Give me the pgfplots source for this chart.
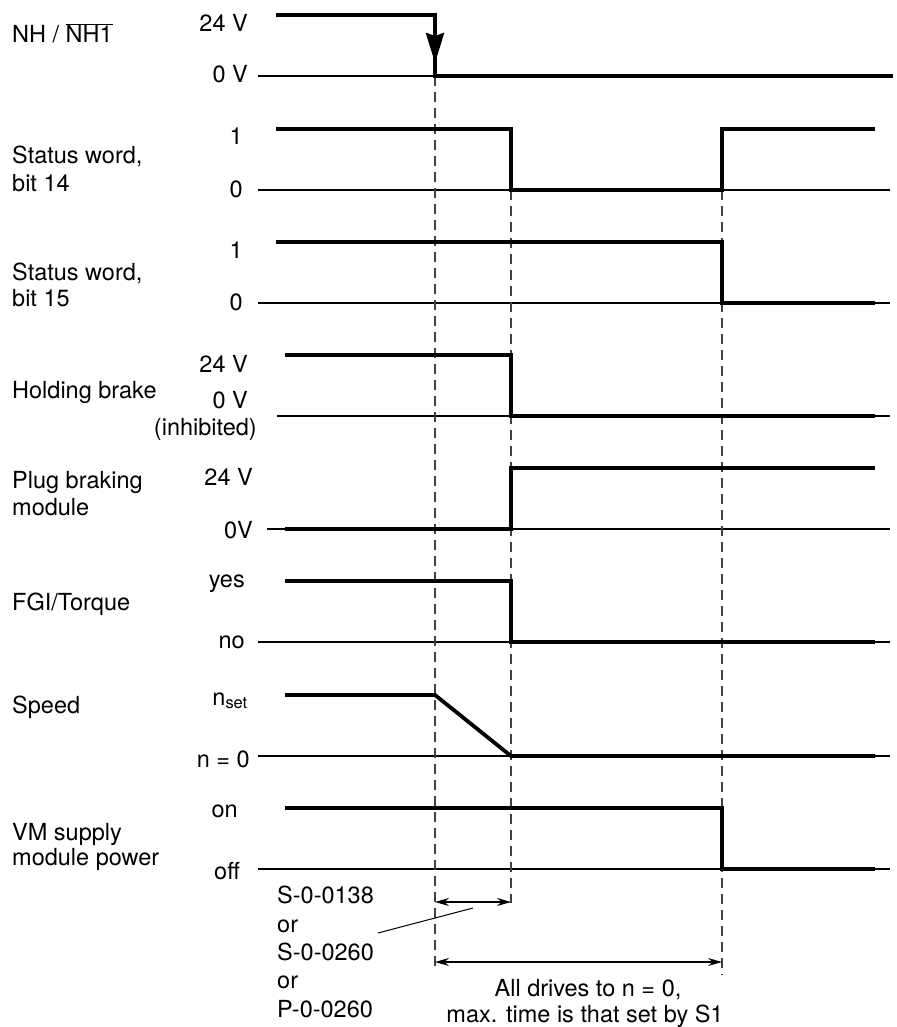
\documentclass[border=0pt]{standalone}
\usepackage{fontspec}
\setmainfont{TeX Gyre Heros}
\usepackage{pgfplots}
\pgfplotsset{compat=1.18}
\usetikzlibrary{arrows.meta}
\tikzset{
  lab/.style={inner sep=0pt, font=\fontsize{23.5}{28}\selectfont},
  sig/.style={black, line width=3.8pt, line join=miter},
  base/.style={black, line width=1.1pt},
  dsh/.style={black!75, line width=1.1pt, dash pattern=on 10pt off 6pt},
  dim/.style={black, line width=1.1pt, {Stealth[length=14pt,width=8pt]}-{Stealth[length=14pt,width=8pt]}}}
\begin{document}
\begin{tikzpicture}
\path[use as bounding box] (0,0) rectangle (896pt,1027pt);
\begin{axis}[at={(0,0)}, anchor=south west, width=896pt, height=1027pt,
  scale only axis, xmin=0, xmax=896, ymin=0, ymax=1027, y dir=reverse,
  hide axis, clip=false]

% baselines
\addplot[base, no marks] coordinates {(258,76)(893,76)};
\addplot[base, no marks] coordinates {(258,190)(890,190)};
\addplot[base, no marks] coordinates {(258,303)(890,303)};
\addplot[base, no marks] coordinates {(277,416)(890,416)};
\addplot[base, no marks] coordinates {(267,529)(890,529)};
\addplot[base, no marks] coordinates {(258,642)(890,642)};
\addplot[base, no marks] coordinates {(258,756)(890,756)};
\addplot[base, no marks] coordinates {(258,869)(890,869)};

% dashed markers
\addplot[dsh, no marks] coordinates {(435,76)(435,968)};
\addplot[dsh, no marks] coordinates {(511,190)(511,903)};
\addplot[dsh, no marks] coordinates {(722,190)(722,975)};

% signals
\addplot[sig, no marks] coordinates {(276,15)(435,15)(435,76)(893,76)};
\addplot[black, line width=3.8pt, no marks, -{Stealth[length=30pt,width=18pt,inset=3pt]}] coordinates {(435,20)(435,63)};
\addplot[sig, no marks] coordinates {(276,129)(511,129)(511,190)(722,190)(722,129)(875,129)};
\addplot[sig, no marks] coordinates {(276,242)(722,242)(722,303)(875,303)};
\addplot[sig, no marks] coordinates {(285,355)(511,355)(511,416)(875,416)};
\addplot[sig, no marks] coordinates {(285,529)(511,529)(511,468)(875,468)};
\addplot[sig, no marks] coordinates {(285,581)(511,581)(511,642)(875,642)};
\addplot[sig, no marks] coordinates {(285,695)(435,695)(511,756)(875,756)};
\addplot[sig, no marks] coordinates {(285,808)(722,808)(722,869)(875,869)};

% dimension arrows
\addplot[dim, no marks] coordinates {(435,902)(511,902)};
\addplot[dim, no marks] coordinates {(435,962)(722,962)};
\addplot[black, line width=1pt, no marks] coordinates {(378,933)(473,908)};

% left labels
\node[lab, anchor=base west] at (axis cs:12,43) {NH / $\overline{\mbox{NH1}}$};
\node[lab, anchor=base west] at (axis cs:12,164) {Status word,};
\node[lab, anchor=base west] at (axis cs:12,191) {bit 14};
\node[lab, anchor=base west] at (axis cs:12,280) {Status word,};
\node[lab, anchor=base west] at (axis cs:12,306) {bit 15};
\node[lab, anchor=base west] at (axis cs:12,398) {Holding brake};
\node[lab, anchor=base west] at (axis cs:12,488) {Plug braking};
\node[lab, anchor=base west] at (axis cs:12,515) {module};
\node[lab, anchor=base west] at (axis cs:12,610) {FGI/Torque};
\node[lab, anchor=base west] at (axis cs:12,713) {Speed};
\node[lab, anchor=base west] at (axis cs:12,840) {VM supply};
\node[lab, anchor=base west] at (axis cs:12,865) {module power};

% level labels
\node[lab, anchor=base east] at (axis cs:248,32) {24 V};
\node[lab, anchor=base east] at (axis cs:248,83) {0 V};
\node[lab, anchor=base east] at (axis cs:243,145) {1};
\node[lab, anchor=base east] at (axis cs:243,197) {0};
\node[lab, anchor=base east] at (axis cs:243,258) {1};
\node[lab, anchor=base east] at (axis cs:243,310) {0};
\node[lab, anchor=base east] at (axis cs:248,372) {24 V};
\node[lab, anchor=base east] at (axis cs:248,408) {0 V};
\node[lab, anchor=base east] at (axis cs:257,435) {(inhibited)};
\node[lab, anchor=base east] at (axis cs:253,485) {24 V};
\node[lab, anchor=base east] at (axis cs:253,538) {0V};
\node[lab, anchor=base east] at (axis cs:245,587) {yes};
\node[lab, anchor=base east] at (axis cs:245,648) {no};
\node[lab, anchor=base east] at (axis cs:248,705) {n\textsubscript{set}};
\node[lab, anchor=base east] at (axis cs:250,767) {n = 0};
\node[lab, anchor=base east] at (axis cs:238,817) {on};
\node[lab, anchor=base east] at (axis cs:240,879) {off};

% bottom notes
\node[lab, anchor=base west] at (axis cs:277,903) {S-0-0138};
\node[lab, anchor=base west] at (axis cs:277,932) {or};
\node[lab, anchor=base west] at (axis cs:277,960) {S-0-0260};
\node[lab, anchor=base west] at (axis cs:277,988) {or};
\node[lab, anchor=base west] at (axis cs:277,1017) {P-0-0260};
\node[lab, anchor=base] at (axis cs:588,996) {All drives to n = 0,};
\node[lab, anchor=base] at (axis cs:585,1022) {max. time is that set by S1};
\end{axis}
\end{tikzpicture}
\end{document}
